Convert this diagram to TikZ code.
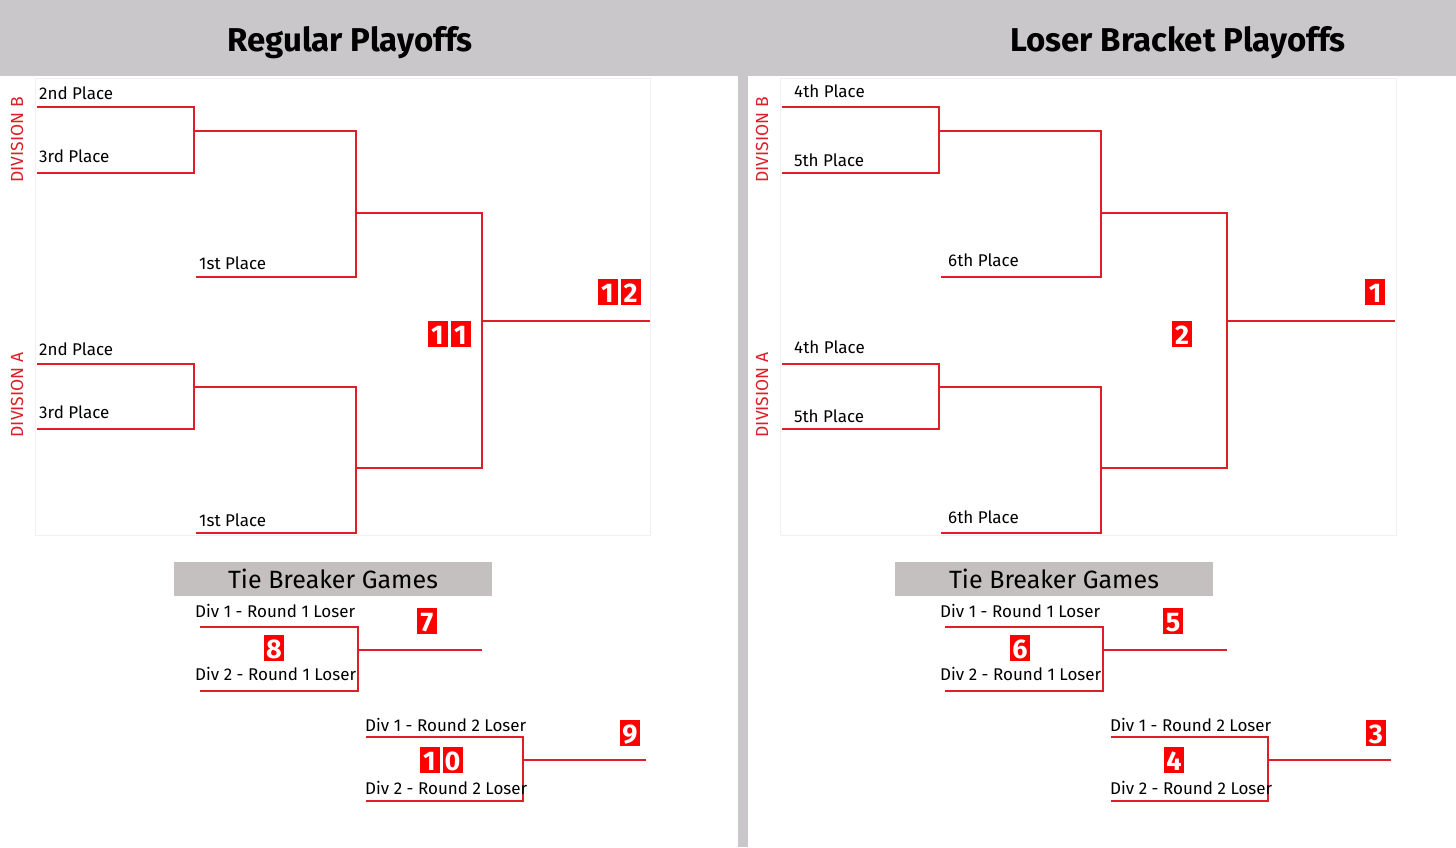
\documentclass[tikz,border=0pt]{standalone}
\usepackage{fontspec}
\setmainfont{Fira Sans}
\definecolor{bred}{RGB}{222,30,40}
\definecolor{hdr}{RGB}{201,199,201}
\definecolor{tbg}{RGB}{196,192,192}
\newcommand{\dg}[1]{{\setlength{\fboxsep}{0pt}\colorbox{red}{\makebox[20pt]{\rule[-3pt]{0pt}{26pt}\textcolor{white}{\bfseries #1}}}}}
\tikzset{br/.style={draw=bred,line width=1.4pt},
 lbl/.style={anchor=west,font=\fontsize{17}{17}\selectfont,inner sep=0pt},
 div/.style={rotate=90,text=bred,font=\fontsize{17.5}{17}\selectfont,inner sep=0pt},
 badge/.style={inner sep=0pt,font=\fontsize{27}{27}\selectfont},
 ttl/.style={font=\fontsize{33}{33}\selectfont\bfseries},
 tbox/.style={fill=tbg,font=\fontsize{25}{25}\selectfont}}
\begin{document}
\begin{tikzpicture}[x=1pt,y=-1pt]
\useasboundingbox (0,0) rectangle (1456,847);
\fill[white] (0,0) rectangle (1456,847);
\fill[hdr] (0,0) rectangle (1456,76);
\fill[hdr] (738,76) rectangle (748,847);
\node[ttl] (t1) at (350,43) {Regular Playoffs};
\node[ttl] (t2) at (1178,43) {Loser Bracket Playoffs};
\draw[black!6] (35,78) rectangle (650,535);
\draw[black!6] (780,78) rectangle (1396,535);
\foreach \o/\a/\b/\c/\p/\q/\r/\lx/\mx/\tb in {0/2nd/3rd/1st/93/156/263/39/199/333, 745/4th/5th/6th/91/160/260/49/203/309}{
 \begin{scope}[xshift=\o]
 \draw[br] (37,107)--(194,107)--(194,173)--(37,173);
 \draw[br] (194,131)--(356,131)--(356,277)--(196,277);
 \draw[br] (37,364)--(194,364)--(194,429)--(37,429);
 \draw[br] (194,387)--(356,387)--(356,533)--(196,533);
 \draw[br] (356,213)--(482,213)--(482,468)--(356,468);
 \draw[br] (482,321)--(650,321);
 \node[lbl] at (\lx,\p) {\a\ Place};
 \node[lbl] at (\lx,\q) {\b\ Place};
 \node[lbl] at (\mx,\r) {\c\ Place};
 \node[lbl] at (\lx,\p+256) {\a\ Place};
 \node[lbl] at (\lx,\q+256) {\b\ Place};
 \node[lbl] at (\mx,\r+257) {\c\ Place};
 \node[div] at (17,140) {DIVISION B};
 \node[div] at (17,395) {DIVISION A};
 \node[tbox,minimum width=318pt,minimum height=34pt] at (\tb,579) {Tie Breaker Games};
 \draw[br] (200,627)--(358,627)--(358,691)--(200,691);
 \draw[br] (358,650)--(482,650);
 \node[lbl] at (195,611) {Div 1 - Round 1 Loser};
 \node[lbl] at (195,674) {Div 2 - Round 1 Loser};
 \draw[br] (366,737)--(523,737)--(523,801)--(366,801);
 \draw[br] (523,760)--(646,760);
 \node[lbl] at (365,725) {Div 1 - Round 2 Loser};
 \node[lbl] at (365,788) {Div 2 - Round 2 Loser};
 \end{scope}}
\node[badge] at (449,334) {\dg{1}\hspace{3pt}\dg{1}};
\node[badge] at (619,292) {\dg{1}\hspace{3pt}\dg{2}};
\node[badge] at (274,648) {\dg{8}};
\node[badge] at (427,621) {\dg{7}};
\node[badge] at (441,760) {\dg{1}\hspace{3pt}\dg{0}};
\node[badge] at (630,733) {\dg{9}};
\node[badge] at (1375,292) {\dg{1}};
\node[badge] at (1182,334) {\dg{2}};
\node[badge] at (1020,648) {\dg{6}};
\node[badge] at (1173,621) {\dg{5}};
\node[badge] at (1174,760) {\dg{4}};
\node[badge] at (1376,733) {\dg{3}};
\end{tikzpicture}
\end{document}
